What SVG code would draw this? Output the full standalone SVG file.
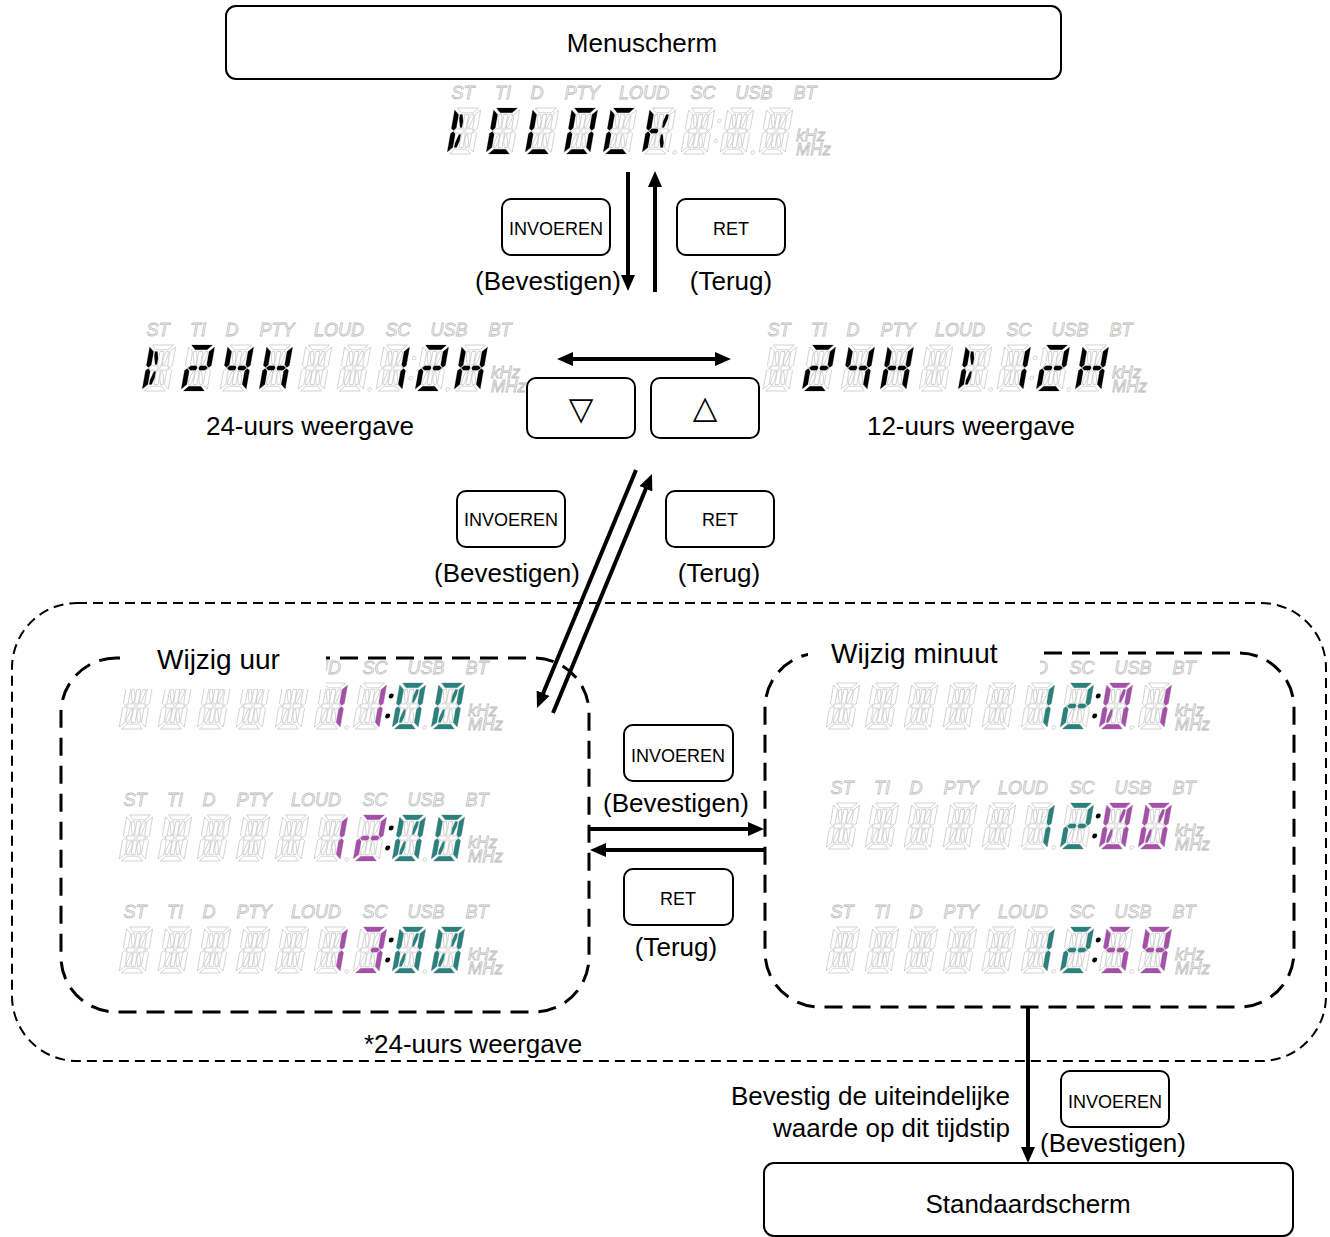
<svg xmlns="http://www.w3.org/2000/svg" width="1330" height="1237" viewBox="0 0 1330 1237">
<style>
text{font-family:"Liberation Sans",Arial,Helvetica,sans-serif}
.t26{font-size:26px;fill:#000}
.t28{font-size:28px;fill:#000}
.bt{font-size:18px;text-anchor:middle;fill:#000}
.mid{text-anchor:middle}
.end{text-anchor:end}
.box{fill:#fff;stroke:#000;stroke-width:2}
.off{fill:#fff;stroke:#c2c2c2;stroke-width:.7}
.lb{font-size:18px;font-style:italic;fill:#fff;stroke:#bdbdbd;stroke-width:.8;text-anchor:middle}
.hz{font-size:17px;font-style:italic;fill:#fff;stroke:#bdbdbd;stroke-width:.8}
.k{fill:#000}
.p{fill:#a550a8}
.q{fill:#2a807b}
.arr{stroke:#000;stroke-width:4;fill:none;marker-end:url(#ah)}
.dash1{fill:none;stroke:#000;stroke-width:2;stroke-dasharray:10 6}
.dash2{fill:none;stroke:#000;stroke-width:3;stroke-dasharray:18 10}
.tri{font-family:"DejaVu Sans",sans-serif;font-size:32px;text-anchor:middle;fill:#000}
</style>
<defs>
<marker id="ah" viewBox="0 0 16 14" refX="4" refY="7" markerWidth="16" markerHeight="14" markerUnits="userSpaceOnUse" orient="auto-start-reverse">
<path d="M0,0 L16,7 L0,14 Z" fill="#000"/>
</marker>
<path id="sa" d="M2.5,0 H23.5 L19,4.8 H7 Z"/>
<path id="sd" d="M2.5,46 H23.5 L19,41.2 H7 Z"/>
<path id="sf" d="M0,2 L4.8,6.5 V20 L2.4,22.5 L0,20.5 Z"/>
<path id="se" d="M0,44 L4.8,39.5 V26 L2.4,23.5 L0,25.5 Z"/>
<path id="sb" d="M26,2 L21.2,6.5 V20 L23.6,22.5 L26,20.5 Z"/>
<path id="sc" d="M26,44 L21.2,39.5 V26 L23.6,23.5 L26,25.5 Z"/>
<path id="sg1" d="M3.2,23 L5.6,20.8 H11.2 L12.3,23 L11.2,25.2 H5.6 Z"/>
<path id="sg2" d="M22.8,23 L20.4,20.8 H14.8 L13.7,23 L14.8,25.2 H20.4 Z"/>
<path id="si" d="M11,6.5 H15 V19.3 L13,20.8 L11,19.3 Z"/>
<path id="sl" d="M11,39.5 H15 V26.7 L13,25.2 L11,26.7 Z"/>
<path id="sh" d="M6.2,6.5 H8.6 L10.4,13 V19.5 H8.6 L6.2,11 Z"/>
<path id="sj" d="M19.8,6.5 H17.4 L15.6,13 V19.5 H17.4 L19.8,11 Z"/>
<path id="sk" d="M6.2,39.5 H8.6 L10.4,33 V26.5 H8.6 L6.2,35 Z"/>
<path id="sm" d="M19.8,39.5 H17.4 L15.6,33 V26.5 H17.4 L19.8,35 Z"/>
<g id="C">
<use href="#sa" class="off"/><use href="#sb" class="off"/><use href="#sc" class="off"/><use href="#sd" class="off"/><use href="#se" class="off"/><use href="#sf" class="off"/><use href="#sg1" class="off"/><use href="#sg2" class="off"/><use href="#sh" class="off"/><use href="#si" class="off"/><use href="#sj" class="off"/><use href="#sk" class="off"/><use href="#sl" class="off"/><use href="#sm" class="off"/>
</g>
<g id="GP"><use href="#sf"/><use href="#se"/><use href="#sh"/><use href="#sk"/></g>
<g id="GC"><use href="#sa"/><use href="#sf"/><use href="#se"/><use href="#sd"/></g>
<g id="GL"><use href="#sf"/><use href="#se"/><use href="#sd"/></g>
<g id="GO"><use href="#sa"/><use href="#sb"/><use href="#sc"/><use href="#sd"/><use href="#se"/><use href="#sf"/></g>
<g id="GK"><use href="#sf"/><use href="#se"/><use href="#sg1"/><use href="#sj"/><use href="#sm"/></g>
<g id="G1"><use href="#sb"/><use href="#sc"/></g>
<g id="G2"><use href="#sa"/><use href="#sb"/><use href="#sg1"/><use href="#sg2"/><use href="#se"/><use href="#sd"/></g>
<g id="G3"><use href="#sa"/><use href="#sb"/><use href="#sg2"/><use href="#sc"/><use href="#sd"/></g>
<g id="G4"><use href="#sf"/><use href="#sb"/><use href="#sg1"/><use href="#sg2"/><use href="#sc"/></g>
<g id="GH"><use href="#sf"/><use href="#se"/><use href="#sb"/><use href="#sc"/><use href="#sg1"/><use href="#sg2"/></g>
<g id="G0"><use href="#sa"/><use href="#sb"/><use href="#sc"/><use href="#sd"/><use href="#se"/><use href="#sf"/><use href="#sj"/><use href="#sk"/></g>
<g id="G5"><use href="#sa"/><use href="#sf"/><use href="#sg1"/><use href="#sg2"/><use href="#sc"/><use href="#sd"/></g>
<g id="G9"><use href="#sa"/><use href="#sb"/><use href="#sf"/><use href="#sg1"/><use href="#sg2"/><use href="#sc"/><use href="#sd"/></g>
<g id="DISP">
<g class="lb"><text x="16" y="-9">ST</text><text x="56" y="-9">TI</text><text x="90" y="-9">D</text><text x="135" y="-9">PTY</text><text x="197" y="-9">LOUD</text><text x="256" y="-9">SC</text><text x="307" y="-9">USB</text><text x="358" y="-9">BT</text></g>
<g transform="translate(8,0) skewX(-10)">
<use href="#C"/><use href="#C" x="39"/><use href="#C" x="78"/><use href="#C" x="117"/><use href="#C" x="156"/><use href="#C" x="195"/><use href="#C" x="234"/><use href="#C" x="273"/><use href="#C" x="312"/>
<circle class="off" cx="227.5" cy="44.5" r="1.8"/><circle class="off" cx="266.5" cy="13" r="1.8"/><circle class="off" cx="266.5" cy="33" r="1.8"/><circle class="off" cx="305.5" cy="44.5" r="1.8"/>
</g>
<text class="hz" x="349" y="33">kHz</text><text class="hz" x="349" y="47">MHz</text>
</g>
<g id="COLON"><circle cx="266.5" cy="13" r="2.4"/><circle cx="266.5" cy="33" r="2.4"/></g>
</defs>

<rect width="1330" height="1237" fill="#fff"/>

<g id="menuscherm"><rect class="box" x="226" y="6" width="835" height="73" rx="10"/><text class="t26 mid" x="642" y="52">Menuscherm</text></g>

<g id="disp-clock" transform="translate(447,108)"><use href="#DISP"/>
<g transform="translate(8,0) skewX(-10)"><use href="#GP" class="k"/><use href="#GC" class="k" x="39"/><use href="#GL" class="k" x="78"/><use href="#GO" class="k" x="117"/><use href="#GC" class="k" x="156"/><use href="#GK" class="k" x="195"/></g></g>

<g id="btn-invoeren-1"><rect class="box" x="502" y="199" width="108" height="56" rx="9"/><text class="bt" x="556" y="234.5">INVOEREN</text></g>
<g id="btn-ret-1"><rect class="box" x="677" y="199" width="108" height="56" rx="9"/><text class="bt" x="731" y="234.5">RET</text></g>
<text class="t26 mid" x="548" y="290">(Bevestigen)</text>
<text class="t26 mid" x="731" y="290">(Terug)</text>

<g id="disp-24h" transform="translate(142,345)"><use href="#DISP"/>
<g transform="translate(8,0) skewX(-10)"><use href="#GP" class="k"/><use href="#G2" class="k" x="39"/><use href="#G4" class="k" x="78"/><use href="#GH" class="k" x="117"/><use href="#G1" class="k" x="234"/><use href="#G2" class="k" x="273"/><use href="#GH" class="k" x="312"/></g></g>
<text class="t26 mid" x="310" y="435">24-uurs weergave</text>

<g id="disp-12h" transform="translate(763,345)"><use href="#DISP"/>
<g transform="translate(8,0) skewX(-10)"><use href="#G2" class="k" x="39"/><use href="#G4" class="k" x="78"/><use href="#GH" class="k" x="117"/><use href="#GP" class="k" x="195"/><use href="#G1" class="k" x="234"/><use href="#G2" class="k" x="273"/><use href="#GH" class="k" x="312"/></g></g>
<text class="t26 mid" x="971" y="435">12-uurs weergave</text>

<g id="btn-down"><rect class="box" x="527" y="378" width="108" height="60" rx="9"/><text class="tri" x="581" y="420">▽</text></g>
<g id="btn-up"><rect class="box" x="651" y="378" width="108" height="60" rx="9"/><text class="tri" x="705" y="418">△</text></g>

<g id="btn-invoeren-2"><rect class="box" x="457" y="491" width="108" height="56" rx="9"/><text class="bt" x="511" y="526">INVOEREN</text></g>
<g id="btn-ret-2"><rect class="box" x="666" y="491" width="108" height="56" rx="9"/><text class="bt" x="720" y="526">RET</text></g>
<text class="t26 mid" x="507" y="582">(Bevestigen)</text>
<text class="t26 mid" x="719" y="582">(Terug)</text>

<g id="group-24h"><rect class="dash1" x="12" y="603" width="1314" height="458" rx="65"/></g>

<g id="disp-uur-1" transform="translate(119,683)"><use href="#DISP"/>
<g transform="translate(8,0) skewX(-10)"><use href="#G1" class="p" x="195"/><use href="#G1" class="p" x="234"/><use href="#G0" class="q" x="273"/><use href="#G0" class="q" x="312"/><use href="#COLON" class="k"/></g></g>
<g id="disp-uur-2" transform="translate(119,815)"><use href="#DISP"/>
<g transform="translate(8,0) skewX(-10)"><use href="#G1" class="p" x="195"/><use href="#G2" class="p" x="234"/><use href="#G0" class="q" x="273"/><use href="#G0" class="q" x="312"/><use href="#COLON" class="k"/></g></g>
<g id="disp-uur-3" transform="translate(119,927)"><use href="#DISP"/>
<g transform="translate(8,0) skewX(-10)"><use href="#G1" class="p" x="195"/><use href="#G3" class="p" x="234"/><use href="#G0" class="q" x="273"/><use href="#G0" class="q" x="312"/><use href="#COLON" class="k"/></g></g>

<g id="disp-min-1" transform="translate(826,683)"><use href="#DISP"/>
<g transform="translate(8,0) skewX(-10)"><use href="#G1" class="q" x="195"/><use href="#G2" class="q" x="234"/><use href="#G0" class="p" x="273"/><use href="#G1" class="p" x="312"/><use href="#COLON" class="k"/></g></g>
<g id="disp-min-2" transform="translate(826,803)"><use href="#DISP"/>
<g transform="translate(8,0) skewX(-10)"><use href="#G1" class="q" x="195"/><use href="#G2" class="q" x="234"/><use href="#G0" class="p" x="273"/><use href="#G0" class="p" x="312"/><use href="#COLON" class="k"/></g></g>
<g id="disp-min-3" transform="translate(826,927)"><use href="#DISP"/>
<g transform="translate(8,0) skewX(-10)"><use href="#G1" class="q" x="195"/><use href="#G2" class="q" x="234"/><use href="#G5" class="p" x="273"/><use href="#G9" class="p" x="312"/><use href="#COLON" class="k"/></g></g>

<g id="wijzig-uur"><rect class="dash2" x="61" y="658" width="528" height="354" rx="55"/><rect x="120" y="636" width="206" height="53" fill="#fff"/><text class="t28" x="157" y="669">Wijzig uur</text></g>
<g id="wijzig-minuut"><rect class="dash2" x="765" y="653" width="529" height="354" rx="55"/><rect x="808" y="630" width="232" height="49" fill="#fff"/><text class="t28" x="831" y="663">Wijzig minuut</text></g>

<g id="label-24h"><rect x="358" y="1032" width="232" height="28" fill="#fff"/><text class="t26 mid" x="473" y="1053">*24-uurs weergave</text></g>

<g id="btn-invoeren-3"><rect class="box" x="624" y="725" width="109" height="56" rx="9"/><text class="bt" x="678" y="762">INVOEREN</text></g>
<text class="t26 mid" x="676" y="812">(Bevestigen)</text>
<g id="btn-ret-3"><rect class="box" x="624" y="869" width="109" height="56" rx="9"/><text class="bt" x="678" y="905">RET</text></g>
<text class="t26 mid" x="676" y="956">(Terug)</text>

<text class="t26 end" x="1010" y="1105">Bevestig de uiteindelijke</text>
<text class="t26 end" x="1010" y="1137">waarde op dit tijdstip</text>
<g id="btn-invoeren-4"><rect class="box" x="1061" y="1071" width="108" height="56" rx="9"/><text class="bt" x="1115" y="1108">INVOEREN</text></g>
<text class="t26 mid" x="1113" y="1152">(Bevestigen)</text>

<g id="standaardscherm"><rect class="box" x="764" y="1163" width="529" height="73" rx="10"/><text class="t26 mid" x="1028" y="1213">Standaardscherm</text></g>

<g id="connectors">
<line class="arr" x1="628" y1="172" x2="628" y2="279"/>
<line class="arr" x1="655" y1="292" x2="655" y2="183"/>
<line class="arr" x1="569" y1="359" x2="719" y2="359" style="marker-start:url(#ah)"/>
<line class="arr" x1="636" y1="470" x2="541.6" y2="696.9"/>
<line class="arr" x1="553" y1="713" x2="647.4" y2="485.1"/>
<line class="arr" x1="590" y1="829" x2="752" y2="829"/>
<line class="arr" x1="765" y1="850" x2="602" y2="850"/>
<line class="arr" x1="1028" y1="1007" x2="1028" y2="1151"/>
</g>
</svg>
